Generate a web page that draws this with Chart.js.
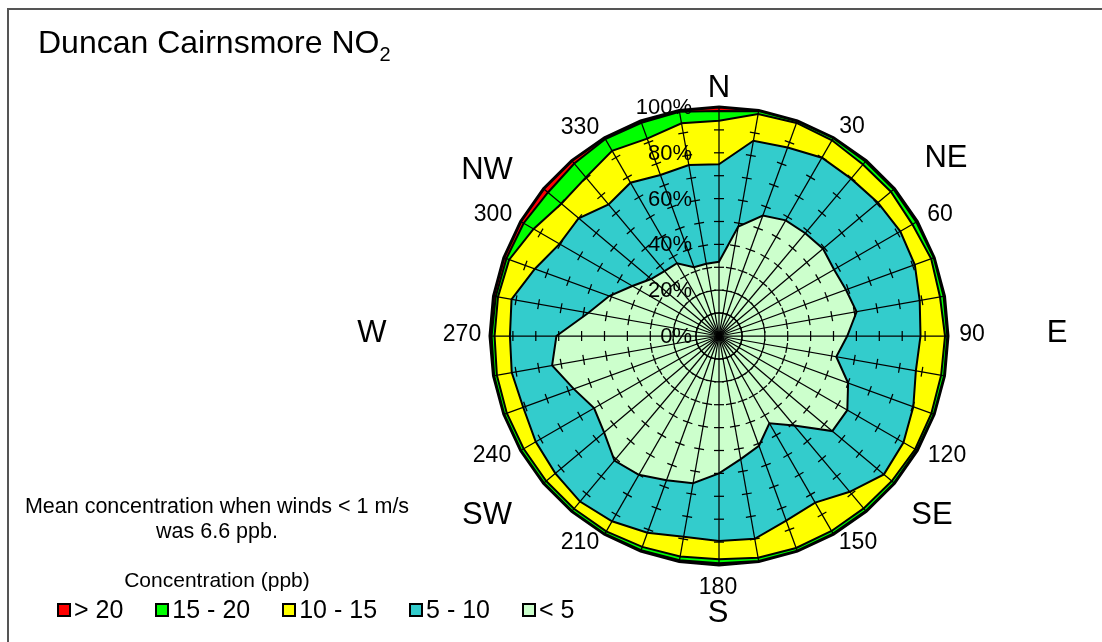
<!DOCTYPE html>
<html>
<head>
<meta charset="utf-8">
<title>Duncan Cairnsmore NO2</title>
<script src="https://cdn.jsdelivr.net/npm/chart.js@4.4.0/dist/chart.umd.min.js"></script>
<style>
  html, body { margin: 0; padding: 0; background: #fff; }
  body {
    width: 1102px; height: 642px; position: relative; overflow: hidden;
    font-family: "Liberation Sans", Arial, sans-serif; color: #000;
  }
  #chart { position: absolute; left: 0; top: 0; }
  .frame {
    position: absolute; left: 7px; top: 8px; width: 1200px; height: 700px;
    border-left: 2px solid #555; border-top: 2px solid #555;
  }
  .title { position: absolute; left: 38px; top: 24px; font-size: 32px; white-space: nowrap; }
  .title sub { font-size: 20px; vertical-align: -8px; line-height: 0; }
  .note {
    position: absolute; left: 17px; width: 400px; top: 494px;
    text-align: center; font-size: 21.5px; line-height: 25px;
  }
  .legend-title {
    position: absolute; left: 17px; width: 400px; top: 568px;
    text-align: center; font-size: 21px;
  }
  .legend {
    position: absolute; left: 57px; top: 595px; display: flex; align-items: center;
    font-size: 25px; white-space: nowrap;
  }
  .legend .item { display: flex; align-items: center; margin-right: 32px; }
  .legend .box { width: 10px; height: 10px; border: 2px solid #000; margin-right: 3px; }
</style>
</head>
<body>
<canvas id="chart" width="1102" height="642"></canvas>
<div class="frame"></div>
<div class="title">Duncan Cairnsmore NO<sub>2</sub></div>
<div class="note">Mean concentration when winds &lt; 1 m/s<br>was 6.6 ppb.</div>
<div class="legend-title">Concentration (ppb)</div>
<div class="legend" id="legend"></div>

<script>
// Direções do vento (graus, a partir do norte, sentido horário)
const directions = [0, 10, 20, 30, 40, 50, 60, 70, 80, 90, 100, 110,
  120, 130, 140, 150, 160, 170, 180, 190, 200, 210, 220, 230,
  240, 250, 260, 270, 280, 290, 300, 310, 320, 330, 340, 350];

// Percentagens acumuladas por direção (limite superior de cada classe)
const lt5 = [32.4, 48.5, 56, 58.3, 58.6, 59.3, 58, 59, 61, 56, 52, 60,
  64.7, 64.6, 51, 44, 51, 54.6, 60, 65.3, 67, 70, 71, 65.5,
  63, 67.5, 74, 71, 58, 51, 43.7, 38.7, 37, 36.7, 32, 32];
const lt10 = [75, 86.6, 87.6, 89.9, 89.7, 90.6, 91.4, 91, 89, 88, 87.3, 90.3,
  93, 94, 88.8, 84, 85.8, 89.9, 89.5, 89, 91.4, 93.4, 94.4, 93.3,
  92.4, 91, 91.9, 91.3, 92, 85.6, 80.4, 80, 75, 77.3, 74.8, 75.8];
const lt15 = [94, 98.4, 99, 98.7, 97.8, 98, 97.5, 98.6, 98, 98.7, 98.5, 98.7,
  98.9, 98.5, 98.3, 98.3, 98.5, 98.3, 97.5, 97.8, 98, 98.5, 98.5, 98.5,
  98.5, 98.6, 98.5, 98, 98, 97.5, 93.5, 89.9, 90.4, 93.4, 91.7, 94.3];
const lt20 = [98.3, 99.7, 99.8, 99.8, 99.5, 99.6, 99.5, 99.8, 99.6, 99.7, 99.8, 99.8,
  99.7, 99.8, 99.7, 99.6, 99.8, 99.8, 99.2, 99.4, 99.5, 99.7, 99.8, 99.8,
  99.8, 99.8, 99.7, 99.3, 99, 98.8, 98.5, 97.5, 98.3, 99.3, 99.1, 99.4];
const total = [100, 100, 100, 100, 100, 100, 100, 100, 100, 100, 100, 100,
  100, 100, 100, 100, 100, 100, 100, 100, 100, 100, 100, 100,
  100, 100, 100, 100, 100, 100, 100, 100, 100, 100, 100, 100];

// Rótulos
const bandLabels = ['< 5', '5 - 10', '10 - 15', '15 - 20', '> 20'];
const pctTicks = [0, 20, 40, 60, 80, 100];
const degreeLabels = ['30', '60', '90', '120', '150', '180', '210', '240', '270', '300', '330'];
const compassLabels = ['N', 'NE', 'E', 'SE', 'S', 'SW', 'W', 'NW'];

// Estilos e posições dos textos (deslocamento a partir do centro)
const bandColors = ['#ccffcc', '#33cccc', '#ffff00', '#00ff00', '#ff0000'];
const degreeOffsets = [[133, -209], [221, -121], [253, -1], [228, 120], [139, 207], [-1, 252],
  [-139, 207], [-227, 120], [-257, -1], [-226, -121], [-139, -208]];
const compassOffsets = [[0, -248], [227, -178], [338, -3], [213, 179], [-1, 277],
  [-232, 179], [-347, -3], [-232, -166]];

const FONT = '"Liberation Sans", Arial, sans-serif';

// Grade (raios + marcas) e textos desenhados por cima das áreas
const overlay = {
  id: 'overlay',
  afterDatasetsDraw(chart) {
    const s = chart.scales.r;
    const ctx = chart.ctx;
    ctx.save();
    ctx.strokeStyle = '#000';
    ctx.lineWidth = 1.25;
    for (let i = 0; i < directions.length; i++) {
      const end = s.getPointPositionForValue(i, 100);
      ctx.beginPath();
      ctx.moveTo(s.xCenter, s.yCenter);
      ctx.lineTo(end.x, end.y);
      ctx.stroke();
      for (let v = 10; v < 100; v += 10) {
        const p = s.getPointPositionForValue(i, v);
        const nx = -Math.sin(p.angle) * 5;
        const ny = Math.cos(p.angle) * 5;
        ctx.beginPath();
        ctx.moveTo(p.x - nx, p.y - ny);
        ctx.lineTo(p.x + nx, p.y + ny);
        ctx.stroke();
      }
    }

    ctx.fillStyle = '#000';
    ctx.font = '22px ' + FONT;
    ctx.textAlign = 'right';
    ctx.textBaseline = 'middle';
    pctTicks.forEach(v => {
      const y = s.yCenter - s.getDistanceFromCenterForValue(v);
      ctx.fillText(v + '%', s.xCenter - 27, y + 1);
    });

    ctx.font = '23px ' + FONT;
    ctx.textAlign = 'center';
    degreeLabels.forEach((t, i) => {
      const o = degreeOffsets[i];
      ctx.fillText(t, s.xCenter + o[0], s.yCenter + o[1]);
    });

    ctx.font = '31px ' + FONT;
    compassLabels.forEach((t, i) => {
      const o = compassOffsets[i];
      ctx.fillText(t, s.xCenter + o[0], s.yCenter + o[1]);
    });
    ctx.restore();
  }
};

const series = [lt5, lt10, lt15, lt20, total];

const chart = new Chart(document.getElementById('chart'), {
  type: 'radar',
  data: {
    labels: directions.map(d => String(d)),
    datasets: series.map((data, i) => ({
      label: bandLabels[i],
      data: data,
      backgroundColor: bandColors[i],
      borderColor: '#000',
      borderWidth: i === 4 ? 3 : 2,
      fill: 'origin',
      pointRadius: 0,
      tension: 0
    }))
  },
  options: {
    responsive: false,
    animation: false,
    layout: { padding: { left: 490, right: 154, top: 107, bottom: 77 } },
    plugins: {
      legend: { display: false },
      tooltip: { enabled: false }
    },
    scales: {
      r: {
        min: 0,
        max: 100,
        ticks: { display: false, stepSize: 10 },
        grid: { display: false },
        angleLines: { display: false },
        pointLabels: { display: false }
      }
    }
  },
  plugins: [overlay]
});

// Legenda: da classe mais alta para a mais baixa
const legend = document.getElementById('legend');
for (let i = bandLabels.length - 1; i >= 0; i--) {
  const item = document.createElement('div');
  item.className = 'item';
  item.innerHTML = `<span class="box" style="background:${bandColors[i]}"></span><span>${bandLabels[i]}</span>`;
  legend.appendChild(item);
}
</script>
</body>
</html>
